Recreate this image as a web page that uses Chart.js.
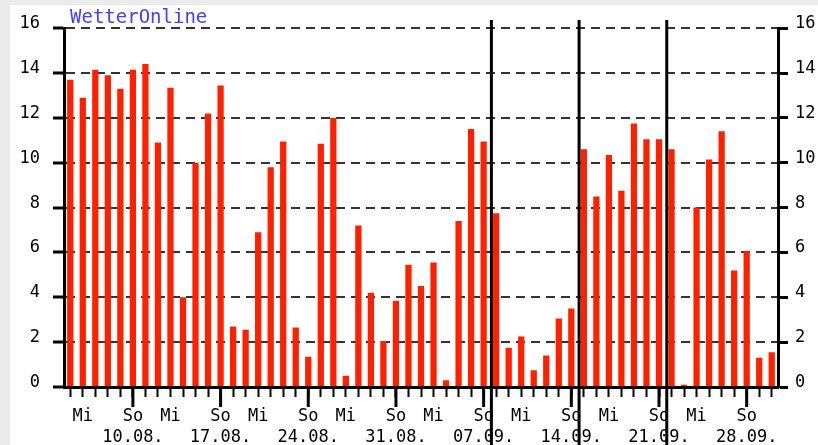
<!DOCTYPE html>
<html>
<head>
<meta charset="utf-8">
<script src="https://cdn.jsdelivr.net/npm/chart.js@4/dist/chart.umd.min.js"></script>
<style>
  html, body { margin: 0; padding: 0; background: #ebebeb; }
  #box { position: absolute; left: 10px; top: 5px; width: 808px; height: 440px; background: #fff; }
</style>
</head>
<body>
<div id="box"><canvas id="chart" width="808" height="440"></canvas></div>
<script>
const days = [
    '05.08.', '06.08.', '07.08.', '08.08.', '09.08.', '10.08.', '11.08.', '12.08.', '13.08.', '14.08.',
    '15.08.', '16.08.', '17.08.', '18.08.', '19.08.', '20.08.', '21.08.', '22.08.', '23.08.', '24.08.',
    '25.08.', '26.08.', '27.08.', '28.08.', '29.08.', '30.08.', '31.08.', '01.09.', '02.09.', '03.09.',
    '04.09.', '05.09.', '06.09.', '07.09.', '08.09.', '09.09.', '10.09.', '11.09.', '12.09.', '13.09.',
    '14.09.', '15.09.', '16.09.', '17.09.', '18.09.', '19.09.', '20.09.', '21.09.', '22.09.', '23.09.',
    '24.09.', '25.09.', '26.09.', '27.09.', '28.09.', '29.09.', '30.09.'
]
const values = [
    13.7, 12.9, 14.15, 13.9, 13.3, 14.15, 14.4, 10.9, 13.35, 4.0,
    10.0, 12.2, 13.45, 2.7, 2.55, 6.9, 9.8, 10.95, 2.65, 1.35,
    10.85, 12.0, 0.5, 7.2, 4.2, 2.05, 3.85, 5.45, 4.5, 5.55,
    0.3, 7.4, 11.5, 10.95, 7.75, 1.75, 2.25, 0.75, 1.4, 3.05,
    3.5, 10.6, 8.5, 10.35, 8.75, 11.75, 11.05, 11.05, 10.6, 0.1,
    8.0, 10.15, 11.4, 5.2, 6.05, 1.3, 1.55
]
const sundays = ['10.08.', '17.08.', '24.08.', '31.08.', '07.09.', '14.09.', '21.09.', '28.09.']
const wednesdays = ['06.08.', '13.08.', '20.08.', '27.08.', '03.09.', '10.09.', '17.09.', '24.09.']
// black week lines go in front of these days
const weekBreaks = ['08.09.', '15.09.', '22.09.']

Chart.defaults.font.family = 'DejaVu Sans Mono';
Chart.defaults.font.size = 17;
Chart.defaults.color = '#000';

const extras = {
    id: 'extras',
    afterDraw(chart) {
        const ctx = chart.ctx;
        const x = chart.scales.x;
        const area = chart.chartArea;
        ctx.save();
        ctx.strokeStyle = '#000';
        ctx.lineWidth = 3;
        // longer ticks on sundays
        sundays.forEach(d => {
            const px = x.getPixelForValue(days.indexOf(d));
            ctx.beginPath();
            ctx.moveTo(px, area.bottom);
            ctx.lineTo(px, area.bottom + 20);
            ctx.stroke();
        });
        weekBreaks.forEach(d => {
            const i = days.indexOf(d);
            const px = (x.getPixelForValue(i - 1) + x.getPixelForValue(i)) / 2 + 1.5;
            ctx.beginPath();
            ctx.moveTo(px, 15);
            ctx.lineTo(px, chart.height);
            ctx.stroke();
        });
        ctx.fillStyle = '#4040ff';
        ctx.font = '19px "DejaVu Sans Mono"';
        ctx.textBaseline = 'alphabetic';
        ctx.fillText('WetterOnline', 60, 18);
        ctx.restore();
    }
};

const yGrid = {
    color: c => c.tick && c.tick.value === 0 ? 'rgba(0,0,0,0)' : '#333',
    lineWidth: 2,
    tickColor: '#000',
    tickWidth: 3,
    tickLength: 11
};

const ctx = document.getElementById('chart').getContext('2d');
new Chart(ctx, {
    type: 'bar',
    data: {
        labels: days,
        datasets: [{
            data: values,
            backgroundColor: '#ff2000',
            borderWidth: 0,
            barPercentage: 0.5,
            categoryPercentage: 1
        }]
    },
    options: {
        responsive: false,
        animation: false,
        layout: { padding: { top: 21, left: 0, right: 0, bottom: 0 } },
        plugins: {
            legend: { display: false },
            tooltip: { enabled: false }
        },
        scales: {
            x: {
                offset: true,
                grid: { offset: false, drawOnChartArea: false, tickLength: 10, tickColor: '#000', tickWidth: 2 },
                border: { color: '#000', width: 3 },
                ticks: {
                    autoSkip: false,
                    maxRotation: 0,
                    minRotation: 0,
                    padding: 10,
                    font: { size: 17, lineHeight: 1.18 },
                    callback: function (v, i) {
                        const d = days[i];
                        if (sundays.includes(d)) return ['So', d];
                        if (wednesdays.includes(d)) return 'Mi';
                        return '';
                    }
                },
                afterFit: s => { s.height = 58; }
            },
            y: {
                position: 'left',
                min: 0,
                max: 16,
                ticks: { stepSize: 2, padding: 13, labelOffset: -4.5 },
                grid: yGrid,
                border: { color: '#000', width: 3, dash: [9, 6] },
                afterFit: s => { s.width = 54; }
            },
            y2: {
                position: 'right',
                min: 0,
                max: 16,
                ticks: { stepSize: 2, padding: 7, labelOffset: -4.5 },
                grid: { drawOnChartArea: false, tickColor: '#000', tickWidth: 3, tickLength: 10 },
                border: { color: '#000', width: 3 },
                afterFit: s => { s.width = 40; }
            }
        }
    },
    plugins: [extras]
});
</script>
</body>
</html>
